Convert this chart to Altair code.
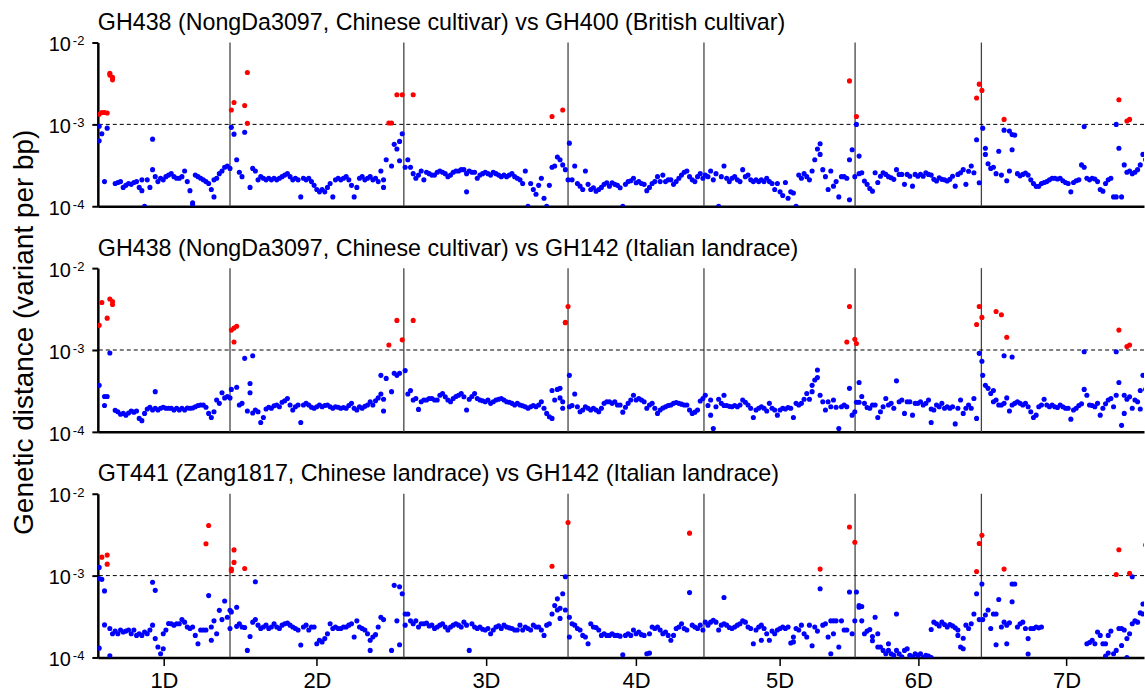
import json
import altair as alt
import pandas as pd

FONT = "Liberation Sans"

CHROMS = ["1D", "2D", "3D", "4D", "5D", "6D", "7D"]
CHROM_MB = [495, 651, 615, 509, 566, 473, 638]
BIN_MB = 10
X_END_MB = 3918

TITLES = [
    "GH438 (NongDa3097, Chinese cultivar) vs GH400 (British cultivar)",
    "GH438 (NongDa3097, Chinese cultivar) vs GH142 (Italian landrace)",
    "GT441 (Zang1817, Chinese landrace) vs GH142 (Italian landrace)",
]
Y_TITLE = "Genetic distance (variant per bp)"
Y_TICKS = [1e-2, 1e-3, 1e-4]
Y_EXPONENTS = ["-2", "-3", "-4"]
THRESHOLD = [1e-3]

# Genetic distance per 10-Mb bin, in units of 1e-5 variants/bp.
# "r" = red (highlighted) point, "/" = several points in one bin, "-" = no data.
P1 = [
    "133r/95/63 140r/77 140r/20 138r/90 420r/400r 375r/350r 19 19.5 20 17 18 19 18.5 19.5 20 17 15.5/21 10 21 17 28/66 23 20 22 21 23 24 25 23 22 22 23 27 20 15.5 11/10.5 24 23 22 21 20 19 16 13/21 22 25 27 30 31 29",
    "150r/92 76/185r 37 26 23 80/170r 430r/103r 17 29 27 21 23 22 21 22 21 22 21 22 23 24 25 23 21 22 21 13 22 21 22 20 18 16 15 16 15 17 19 13 21 22 21 22 23 21 18 13 17 22 23 21 22 23 21 22 20 27 21/17 37 104r 104r/31 57 230r/50 62/36 230r/77",
    "30 37 30 230r/25 22 24 27 21 26 25 24 24 26 27 26 25 23 24 26 27 27 28 28 25/15 27 26 26 22 24 25 26 25 24 26 25 24 23 24 23 24 25 23 22 21 19 27 10 19 16 14 18 22 12.5 10 18 125r/30 31 40 37 32/150r 28 21",
    "59 21 31 19 17.6 16 27 18.5 16 16.8 15.3 16 17 18.5 19.4 17.6 19.4 18.5 18 16.8 10 18.5 20 20.5 22 19.4 20 19 18.5 15.5 17 19 20 23 20 24 20 21 21 18.5 20 22 24 26 27 23 21 20 23 25 22",
    "24 23 27 21 25 10 23 31 22 20 22 23 21 20 28 23 24 21 20 21 20 21 20 22 20 19 16 19 15 13.5 19.5 12.5 15 14.5 10 24 22 25 23 21 27 37 50 58/43 28 23 16 27 17.6 20 13 23 23 22 340r/12/37 49 23",
    "100/125r 41/25 25.6 20.3 18.5 16.5 15.3 25.6 19.5 23.3 25.6 24.5 23 22.3 21.3 28 24.5 24.5 18.5 24.5 23.3 17.6 24.5 23.3 24.5 23.3 25.6 24.5 24 21.3 20.3 22.3 21.3 21 20.3 21.3 23.3 17.6 24.5 25.6 28 18.5 26.8 31 25.6 210r/65 310r/19.4 260r",
    "90 43/51 33 29 30 25 47 24 85/115r 20.5 27/83 49/75 74 25 23.5 24.5 25.5 24 21 19 17.5 17.5 19 19.5 20 21 22 22 21.5 22 20.5 19.5 19 15 19.5 20.5 21 32 94/30 22 21 22 21.5 20 16 15.3 19 21 22 13 100/13 200r/51 13 32 110r/26 115r/27 25 26 28 32 43 37 38 35",
]
P2 = [
    "200r/37 380r 27/21 245r/27 420r/92 390r/360r 18.3 17.6 16.4 16.8 16 17 18 17.4 18 14.6 13.7 16.8 19 20 18.5 31/19.4 18.5 19.4 20 19.4 19.4 19.4 18.5 19.4 18.5 19.4 18.5 19.6 19.4 19.6 20.3 21 21.3 21.3 20 16.8 15 17.6 24.5 22.3 30 26 27 26",
    "175r/33 125r/185r 195r/35 21.3 22.3 79 18 30/39 85/17 18.5 17.6 13 15 19 20 19.4 20.8 21.3 20.3 23 24 25.6 21.3 18.5 20.3 21.3 13 21.3 22.3 21.3 20 19.4 20.3 21.3 20.3 21 21.3 20.3 19.4 20.3 20 19.4 19.8 19.4 21 22.3 19.4 18.5 20.3 19.4 20.5 21.3 23.3 21.3 24 26 29/49 25/18 45 115r 31 52 230r/49 52 133r",
    "56 29 32 230r/24.5 25.6 18.8 23.3 24.5 24.5 25.6 25.6 24.5 24.5 28 29.4 26.8 24.5 23.3 25.6 27 28 29.4 26.8 18.5 25 27 29.4 25.6 24.5 24 23.3 24.5 22.3 23.3 24.5 25 25.6 24.5 23.3 23 22.3 21.3 22.3 21.3 20.8 20.3 19.4 20.3 21 20.3 21.3 23.3 19.4 16.8 15.3 14.6/32 24.5 33 34/26 19.4/23.3 218r/215r 340r",
    "49/20.3 21 29 20.3 17.6 18.5 20.3 19.4 18.5 19.4 18.5 17.6 19.4 22.3 23.3 23.3 22.3 23.3 21.3 21.3 17.4 20 22.3 24.5 28 24.5 25.6 24.5 23.3 19.4 21.3 22.3 19.4 16.8 18.5 19.6 20.3 21 21.3 22.3 22.8 22.3 21.8 21.3 21.3 18.5 16.8 17.4 18.5 23.8 25.6",
    "28 21 16/24.5 11 20.3 25 22.3 28/21 21 20.5 20.3 21 20.3 21.3 24.5 23 21.3 19.4 15 18.5 19.4 20.3 19.4 18 22.3 19.4 18.5 16 18.5 19.4 19 19.8 19.4 15 22.3 21.3 22.3 25 29.4 25 31/37 43 57/46 28 23.3 18.5 23.3 20.3 24.5 20 11 20.3 21.3 20.3/125r 340r/34 16 17.6/135r",
    "120r/23 40/23 27 22.3 19.8 19.4 21.3 21.3 15 17.6 20.3 25.6 21.3 22.3 19.4 42 23.3 24.5 16.8 23.3 23.3 16 22.3 22.3 23.3 21.3 22.3 24.5 13/19 18.5 21.3 20.3 22.3 19.4 20.3 19.4 20.3 12.5 19.4 24.5 16.8 19.4 21.3 19.4 25.6 205r/14.6 340r/91 250r/73",
    "49 37 34 29.4 32/23.3 295r/24.5 21.3 270r/21.3 85/22.3 143r/26 18 82/21.3 22.3 23.3 22.3 21.3 22.3 20.3 17.6 15 16 20.3 21.3 25 21.3 20.3 21.3 20.3 19.8 21.3 20.3 19.4 19.4 14.3 18.5 19.4 21 22 95/33 28 21.3 21 20.3 22.3 16 19.4 22 24.5 25.6 20.3 95/28 175r/40 12 28/16.8 110r/25 115r/26.8 19.4 24.5 23.3 32/19 49 33 40 36",
]
P3 = [
    "13/126/92 168r/90 65/25 178r/138r 10.5/22.6 19.5 21 19.5 21.6 20.5 21 21.6 19.5 21.6 18.6 19.5 18.6 20.5 19.5 21.6 24.8/83 66/17 13.4 11.1 12.8/19.5 21.6 26 25.8 24.8 25.8 25.8 29 27 23.6 22.6 23.6 18.6 14.7 21.6 21.6 245r/21.6 410r/57 16.2/23.6 28 19.5 37.6 29 49 31 22.6/37.6",
    "36/115r/120r 206r/145r 41/24 25.8 23.6 23.2/122r 12.2 18 27 84/29 24.8 22.6 23.6 24.8 22.6 23.6 25.8 23.6 22.6 24.8 25.8 26.3 24.8 23.6 22.6 21.6 14.2 23.6 24.8 21.6 23.6 23.6 14.7 16.2 15.5 17 19.5 25.8 22.6 23.6 22.6 22.6 23.6 23.6 24.8 25.8 17.8 28 23.6 22.6 21.6 19.5 12.2/16.2 17.8 19 23.6 31 29 - - 12.2 76 28 14.3/73 60",
    "24.8/34 34 28 25.8 28 23.6 25.8 25.8 26.3 24.3 24.8 22.6 23.6 24.8 25.8 23.6 21.6 23.6 24.8 25.8 24.8 23.6 27 24.8 12.2 25.8 23.6 22.6 23.6 22.1 21.6 22.6 19.5 21.6 23.6 24.3 22.6 24.8 23.6 23 22.6 21.6 21.6 24.8 21.6 23.6 22.6 21.6 24.8 23.6 23.6 21.6 18.6 24.8 25.8 130r/34 43 52/38 40/30 60 97/38 445r",
    "31/17.8 25.8 24.8 22.6 21.6 18.6 17.8 14.7 25.8 23.6 23.2 21.6 18.6 19.5 18.6 18.6 19.5 18.6 18.6 18.2 10.8 18.6 19.5 18.6 21.6 19.5 20.5 19 18.6 11.1 11.3/19.5 23.6 22.6 23.6 21.6 19.5 20.5 18.6 16.2 18.6 22.6 23.6 25.8 22.6 21.6 330r/62 24.8 23.6 22.6 24.8 21.6",
    "27 24.8 27 28.5 27 21.6 24.8 54/25.8 24.8 23.2 22.6 23.6 24.8 25.8 28 27 23.6 22.6 14.7 21.6 23.6 24.8/16.2 22.6 19.5 16.2 21 19.5 21.6 22.6 23.6 22.6 23.6 15 15.5/17.8 22.6 21.6 24.8 19.5 17.8 24.8 13.9 23.6 21 69/120r 24.8 25.8 17.8 11.1/28 19.5/28 28 13.4 28 21.6 21.6 393r/63 19.5 255r/28",
    "63 41/43 42/28 19.5 21 22 16/18 31 19.5/13.4 13.4 12.2 11.1 12.2/14.7 11.1 10.6 34/12.2 11.1 10.2 12.2 12.8 10.6 10.2 11.1 10.6 11.1 10 10.6 10.4 10/22 27 25.8 24.3 27 25.3 23.6 25.3 24.3 23 18.6/21.6 13.4 12.8/17.2 24.8 22.6 25.8 34 112r/60 247r/29 311r/79",
    "29 33 38 22.6 34 14.3/34 51 23.6 27/120r 14.7/24.8 26.5 48/79 79 23.6 25.8 27 22.6 17/11 22.6 22.6 23.6 23 23.6 - - - - - - - - - - - - - - - - 14.7 15.2 16.2 14.7 20.5 18.6 14.7 10.4/14.7 11.3/18.6 21 11.1 12.2/103r 207r/22.6 14/22.6 21.6 10/17 107r/19.5 97/25.8 28 27 35 45/34 236r/45 40 45",
]

STARTS = []
_acc = 0
for _len in CHROM_MB:
    STARTS.append(_acc)
    _acc += _len
CENTERS = [s + L / 2 for s, L in zip(STARTS, CHROM_MB)]
BOUNDS = STARTS[1:]


def parse(strings):
    rows = []
    for start, s in zip(STARTS, strings):
        for i, tok in enumerate(s.split()):
            if tok == "-":
                continue
            for part in tok.split("/"):
                red = part.endswith("r")
                rows.append({
                    "pos": start + BIN_MB * i + BIN_MB / 2,
                    "dist": float(part.rstrip("r")) * 1e-5,
                    "kind": "red" if red else "blue",
                })
    df = pd.DataFrame(rows)
    df["order"] = (df["kind"] == "red").astype(int)
    return df.sort_values("order", kind="stable").reset_index(drop=True)


LABEL_EXPR = "%s[indexof(%s, datum.value)]" % (json.dumps(CHROMS), json.dumps(CENTERS))


def panel(strings, title, bottom):
    df = parse(strings)
    xscale = alt.Scale(domain=[0, X_END_MB], nice=False, zero=False)
    yscale = alt.Scale(type="log", domain=[1e-4, 1e-2], nice=False)
    if bottom:
        xaxis = alt.Axis(values=CENTERS, labelExpr=LABEL_EXPR, tickSize=8, tickWidth=1.5,
                         tickColor="black", labelFontSize=22, labelFont=FONT, labelColor="black",
                         labelPadding=5, domainWidth=2.5, domainColor="black", grid=False,
                         title=None, labelOverlap=False, labelFlush=False)
    else:
        xaxis = alt.Axis(labels=False, ticks=False, domainWidth=2.5, domainColor="black",
                         grid=False, title=None)
    yaxis = alt.Axis(title=None, values=Y_TICKS, labels=False, tickSize=6, tickWidth=2,
                     tickColor="black", domainWidth=2.5, domainColor="black", grid=False)

    sep = alt.Chart(pd.DataFrame({"pos": BOUNDS})).mark_rule(color="#444444", strokeWidth=1.3).encode(
        x=alt.X("pos:Q", scale=xscale, axis=xaxis))
    thr = alt.Chart(pd.DataFrame({"dist": THRESHOLD})).mark_rule(
        color="black", strokeWidth=1, strokeDash=[4, 3]).encode(
        y=alt.Y("dist:Q", scale=yscale, axis=yaxis))
    pts = alt.Chart(df).mark_circle(size=26, opacity=1, clip=True).encode(
        x=alt.X("pos:Q", scale=xscale, axis=xaxis),
        y=alt.Y("dist:Q", scale=yscale, axis=yaxis),
        color=alt.Color("kind:N", scale=alt.Scale(domain=["blue", "red"], range=["#0000ff", "#ff0000"]),
                        legend=None),
        order=alt.Order("order:Q"),
    )
    ylab = pd.DataFrame({"dist": Y_TICKS, "e": Y_EXPONENTS})
    ten = alt.Chart(ylab).mark_text(text="10", align="right", baseline="middle", fontSize=20,
                                    font=FONT, color="black", dy=2.7).encode(
        y=alt.Y("dist:Q", scale=yscale, axis=yaxis), x=alt.value(-27))
    sup = alt.Chart(ylab).mark_text(align="left", baseline="middle", fontSize=13, font=FONT,
                                    color="black", dy=-1.2).encode(
        y=alt.Y("dist:Q", scale=yscale, axis=yaxis), x=alt.value(-25), text="e:N")

    return alt.layer(sep, thr, pts, ten, sup).properties(
        width=1048, height=164,
        title=alt.TitleParams(text=title, anchor="start", frame="group", fontSize=23.3, font=FONT,
                              fontWeight="normal", color="black", offset=0),
    )


p1 = panel(P1, TITLES[0], False)
p2 = panel(P2, TITLES[1], False)
p3 = panel(P3, TITLES[2], True)

chart = alt.vconcat(p1, p2, p3, spacing=17).properties(
    title=alt.TitleParams(text=Y_TITLE, orient="left", anchor="middle", fontSize=28, font=FONT,
                          fontWeight="normal", color="black", offset=10, dx=19),
    padding={"left": 10, "top": 10, "right": 0, "bottom": 0},
    background="white",
).configure(font=FONT).configure_view(strokeWidth=0)

chart.save("out.html", embed_options={"renderer": "svg", "actions": False})
